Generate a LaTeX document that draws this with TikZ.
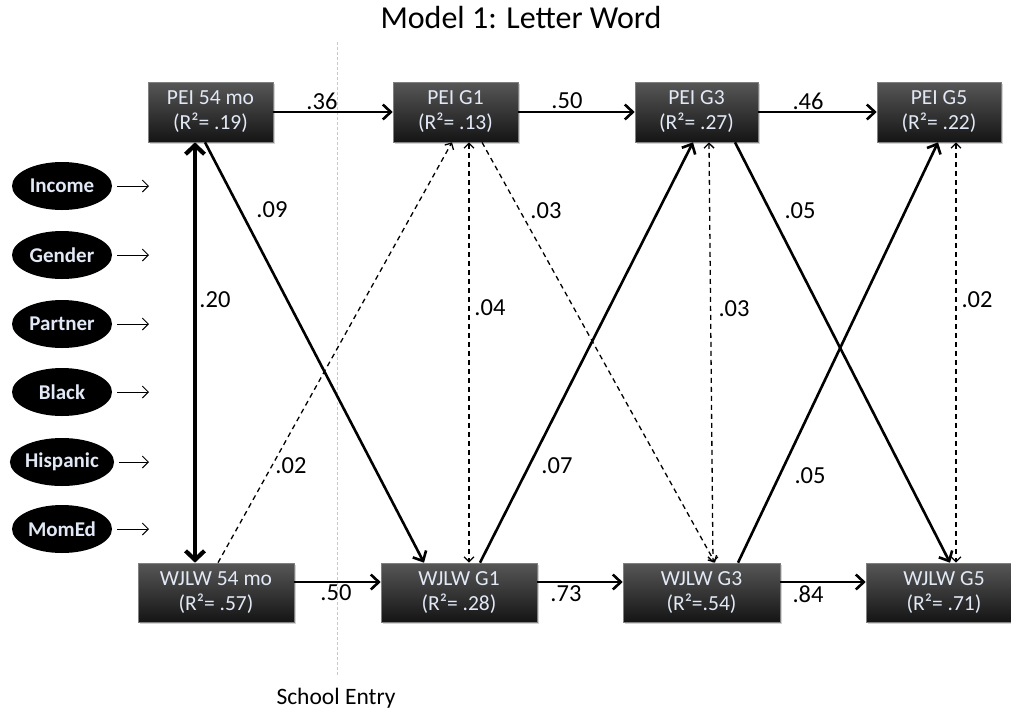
\documentclass[tikz,border=0pt]{standalone}
\usepackage{fontspec}
\setmainfont{Carlito}
\usepackage{tikz}
\usetikzlibrary{
  arrows.meta,
  positioning,
  calc,
  shapes.geometric,
  shadows
}
\definecolor{boxtext}{RGB}{226,233,246}
\definecolor{entrygray}{RGB}{200,200,200}

\begin{document}
\begin{tikzpicture}[x=1pt,y=-1pt,
  box/.style={rectangle,draw=black!50,line width=0.6pt,top color=black!66,bottom color=black!92,
    text=boxtext,align=center,font=\fontsize{21.5}{25}\selectfont,inner sep=0pt,
    drop shadow={opacity=0.35,shadow xshift=2pt,shadow yshift=-2pt}},
  cov/.style={ellipse,fill=black,text=boxtext,font=\fontsize{21}{24}\selectfont\bfseries,
    minimum width=100pt,minimum height=48pt,inner sep=0pt},
  coef/.style={font=\fontsize{24.5}{28}\selectfont,inner sep=1pt},
  sig/.style={line width=2.6pt,-{Straight Barb[length=8pt,width=15pt]}},
  nsig/.style={line width=1.3pt,dash pattern=on 5pt off 4pt,-{Straight Barb[length=5pt,width=10pt]}},
  nsigboth/.style={nsig,{Straight Barb[length=5pt,width=10pt]}-{Straight Barb[length=5pt,width=10pt]}},
  covarrow/.style={line width=1pt,-{Straight Barb[length=6pt,width=12pt]}}
  ]
  \useasboundingbox (0,0) rectangle (1011,710);

  \node[font=\fontsize{32}{36}\selectfont] (title) at (521,18) {Model 1: Letter Word};

  % school entry
  \draw[entrygray,densely dashed,line width=0.8pt] (337,42) -- (337,676);
  \node[font=\fontsize{23.5}{26}\selectfont] (entry) at (336,698) {School Entry};

  % PEI row
  \node[box,minimum width=125pt,minimum height=60pt] (p54) at (210.5,112) {PEI 54 mo\\(R²= .19)};
  \node[box,minimum width=125pt,minimum height=60pt] (pG1) at (455.5,112) {PEI G1\\(R²= .13)};
  \node[box,minimum width=123pt,minimum height=60pt] (pG3) at (696.5,112) {PEI G3\\(R²= .27)};
  \node[box,minimum width=124pt,minimum height=60pt] (pG5) at (939,112) {PEI G5\\(R²= .22)};

  % WJLW row
  \node[box,minimum width=156pt,minimum height=59pt] (w54) at (216,592.5) {WJLW 54 mo\\(R²= .57)};
  \node[box,minimum width=156pt,minimum height=59pt] (wG1) at (459,592.5) {WJLW G1\\(R²= .28)};
  \node[box,minimum width=157pt,minimum height=59pt] (wG3) at (701.5,592.5) {WJLW G3\\(R²=.54)};
  \node[box,minimum width=156pt,minimum height=59pt] (wG5) at (944,592.5) {WJLW G5\\(R²= .71)};

  % covariates
  \foreach \name/\y in {Income/186,Gender/255,Partner/324,Black/392,Hispanic/462,MomEd/529}{
    \node[cov] (c\name) at (62,\y) {\name};
    \coordinate (c\name-to) at (149,\y);
    \draw[covarrow] ([xshift=5pt]c\name.east) -- (c\name-to);
  }

  % stability paths
  \draw[sig] (p54.east) -- (pG1.west);
  \draw[sig] (pG1.east) -- (pG3.west);
  \draw[sig] (pG3.east) -- (pG5.west);
  \draw[sig] ([yshift=10.5pt]w54.east) -- ([yshift=10.5pt]wG1.west);
  \draw[sig] ([yshift=10.5pt]wG1.east) -- ([yshift=10.5pt]wG3.west);
  \draw[sig] ([yshift=10.5pt]wG3.east) -- ([yshift=10.5pt]wG5.west);

  % correlations
  \draw[line width=4.2pt,{Straight Barb[length=9pt,width=19pt]}-{Straight Barb[length=9pt,width=19pt]}]
    ([xshift=-15.5pt]p54.south) -- ([xshift=-21pt]w54.north);
  \draw[nsigboth] ([xshift=13.5pt]pG1.south) -- ([xshift=10pt]wG1.north);
  \draw[nsigboth] ([xshift=12.5pt]pG3.south) -- ([xshift=11.5pt]wG3.north);
  \draw[nsigboth] ([xshift=17pt]pG5.south) -- ([xshift=12pt]wG5.north);

  % cross-lagged paths
  \draw[sig] ([xshift=-5.5pt]p54.south) -- ([xshift=-35pt]wG1.north);
  \draw[nsig] ([xshift=2pt]w54.north) -- ([xshift=-3.5pt]pG1.south);
  \draw[nsig] ([xshift=26.5pt]pG1.south) -- ([xshift=13.5pt]wG3.north);
  \draw[sig] ([xshift=21pt]wG1.north) -- ([xshift=-3.5pt]pG3.south);
  \draw[sig] ([xshift=38.5pt]pG3.south) -- ([xshift=6pt]wG5.north);
  \draw[sig] ([xshift=36.5pt]wG3.north) -- ([xshift=-1pt]pG5.south);

  % coefficients
  \node[coef] (l36) at (322,101) {.36};
  \node[coef] (l50p) at (567,101) {.50};
  \node[coef] (l46) at (808,101) {.46};
  \node[coef] (l50w) at (336,593) {.50};
  \node[coef] (l73) at (566,594) {.73};
  \node[coef] (l84) at (808,594) {.84};
  \node[coef] (l20) at (215,300) {.20};
  \node[coef] (l09) at (272,210) {.09};
  \node[coef] (l02a) at (291,466) {.02};
  \node[coef] (l04) at (490,308) {.04};
  \node[coef] (l03a) at (546,211) {.03};
  \node[coef] (l07) at (557,466) {.07};
  \node[coef] (l03b) at (734,309) {.03};
  \node[coef] (l05a) at (800,211) {.05};
  \node[coef] (l05b) at (810,476) {.05};
  \node[coef] (l02b) at (977,300) {.02};
\end{tikzpicture}
\end{document}
